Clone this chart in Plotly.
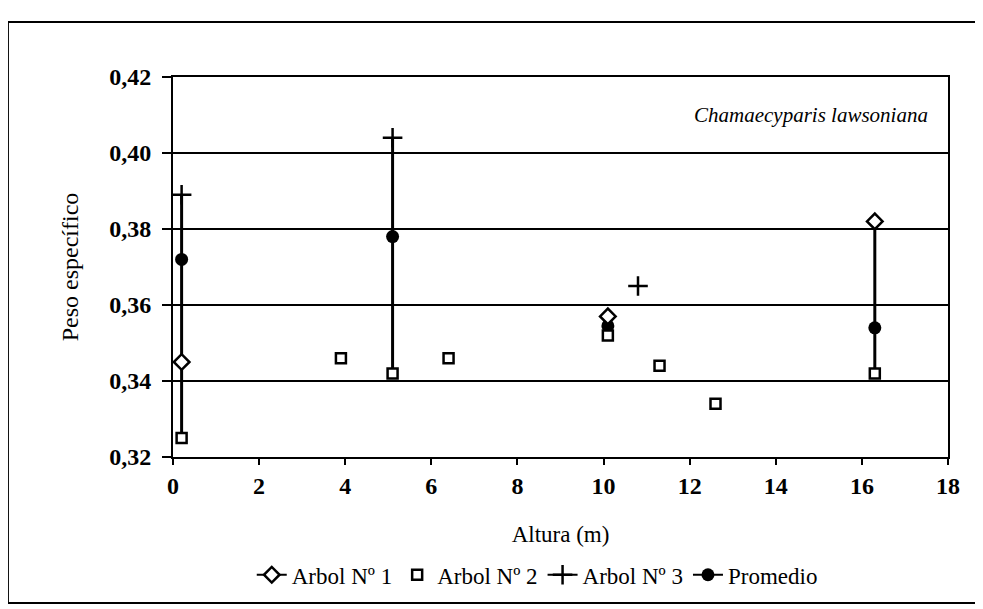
import plotly.graph_objects as go

# Peso especifico vs altura, Chamaecyparis lawsoniana
x_arbol1 = [0.2, 10.1, 16.3]
y_arbol1 = [0.345, 0.357, 0.382]

x_arbol2 = [0.2, 3.9, 5.1, 6.4, 10.1, 11.3, 12.6, 16.3]
y_arbol2 = [0.325, 0.346, 0.342, 0.346, 0.352, 0.344, 0.334, 0.342]

x_arbol3 = [0.2, 5.1, 10.8]
y_arbol3 = [0.389, 0.404, 0.365]

x_prom = [0.2, 5.1, 10.1, 16.3]
y_prom = [0.372, 0.378, 0.3545, 0.354]

FONT = "Liberation Serif"


def gapped(vals):
    # None between points: legend keeps the line, plot shows no connection
    out = []
    for v in vals:
        out += [v, None]
    return out[:-1]


# vertical range line at each Promedio height: min to max of all trees
all_pts = list(zip(x_arbol1, y_arbol1)) + list(zip(x_arbol2, y_arbol2)) + \
    list(zip(x_arbol3, y_arbol3)) + list(zip(x_prom, y_prom))
err_plus, err_minus = [], []
for xp, yp in zip(x_prom, y_prom):
    ys = [y for x, y in all_pts if abs(x - xp) < 1e-9]
    err_plus.append(max(ys) - yp)
    err_minus.append(yp - min(ys))

fig = go.Figure()

fig.add_trace(go.Scatter(
    x=gapped(x_prom), y=gapped(y_prom), mode="lines+markers", name="Promedio",
    legendrank=4,
    line=dict(color="black", width=2),
    marker=dict(symbol="circle", size=13, color="black"),
    error_y=dict(type="data", array=gapped(err_plus), arrayminus=gapped(err_minus),
                 color="black", thickness=3, width=0)))

fig.add_trace(go.Scatter(
    x=gapped(x_arbol1), y=gapped(y_arbol1), mode="lines+markers", name="Arbol Nº 1",
    legendrank=1,
    line=dict(color="black", width=2),
    marker=dict(symbol="diamond", size=12, color="white",
                line=dict(color="black", width=2.5))))

fig.add_trace(go.Scatter(
    x=x_arbol2, y=y_arbol2, mode="markers", name="Arbol Nº 2",
    legendrank=2,
    marker=dict(symbol="square", size=10, color="white",
                line=dict(color="black", width=2.5))))

fig.add_trace(go.Scatter(
    x=gapped(x_arbol3), y=gapped(y_arbol3), mode="lines+markers", name="Arbol Nº 3",
    legendrank=3,
    line=dict(color="black", width=2),
    marker=dict(symbol="cross-thin", size=14, color="black",
                line=dict(color="black", width=2.5))))

axis_common = dict(
    showline=True, linecolor="black", linewidth=2, mirror=True,
    ticks="outside", tickcolor="black", tickwidth=2,
    tickfont=dict(family=FONT, size=24, color="black", weight="bold"),
    zeroline=False,
)

fig.update_xaxes(
    range=[0, 18], dtick=2, showgrid=False, ticklen=6,
    title=dict(text="Altura (m)", font=dict(family=FONT, size=23, color="black"),
               standoff=28),
    **axis_common)
fig.update_yaxes(
    range=[0.32, 0.42], dtick=0.02, tickformat=".2f", ticklen=9,
    ticklabelstandoff=6,
    showgrid=True, gridcolor="black", gridwidth=1.5,
    title=dict(text="Peso específico", font=dict(family=FONT, size=24, color="black"),
               standoff=24),
    **axis_common)

fig.add_annotation(
    text="<i>Chamaecyparis lawsoniana</i>", xref="paper", yref="paper",
    x=0.977, y=0.9, xanchor="right", yanchor="middle", showarrow=False,
    font=dict(family=FONT, size=21, color="black"))

# outer frame of the figure
fig.add_shape(type="rect", xref="paper", yref="paper",
              x0=-0.213, x1=1.08, y0=-0.384, y1=1.145,
              line=dict(color="black", width=2), fillcolor="rgba(0,0,0,0)")

# page body has an 8px margin, so the figure is 8px smaller
fig.update_layout(
    width=975, height=601,
    margin=dict(l=165, r=35, t=69, b=152),
    paper_bgcolor="white", plot_bgcolor="white",
    separators=", ",
    font=dict(family=FONT, color="black"),
    legend=dict(orientation="h", x=0.47, y=-0.31, xanchor="center", yanchor="middle",
                font=dict(family=FONT, size=23, color="black"),
                itemwidth=30, tracegroupgap=0),
)

fig.write_html("out.html")
